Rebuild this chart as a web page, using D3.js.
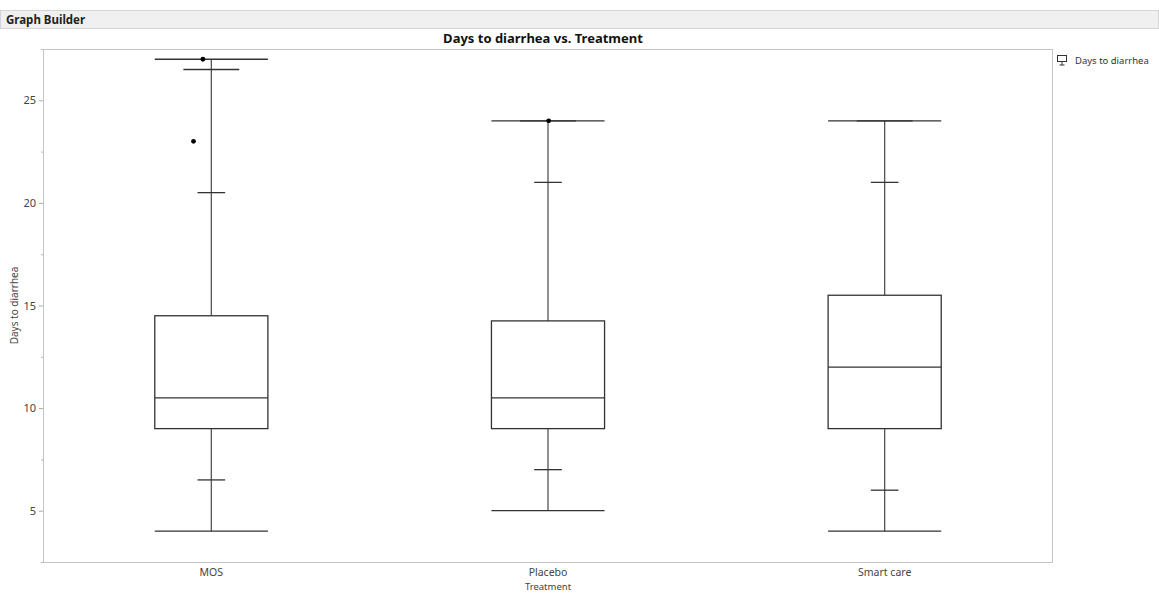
<!DOCTYPE html>
<html><head><meta charset="utf-8">
<script src="https://cdn.jsdelivr.net/npm/d3@7"></script>
<style>
html,body{margin:0;padding:0;background:#fff;}
svg{display:block;font-family:"Noto Sans","Open Sans",sans-serif;}
</style></head>
<body>
<svg id="c" width="1159" height="595"></svg>
<script>
const categories = ["MOS", "Placebo", "Smart care"];
const minVals   = [4, 5, 4];
const lowInner  = [6.5, 7, 6];
const q1Vals    = [9, 9, 9];
const medVals   = [10.5, 10.5, 12];
const q3Vals    = [14.5, 14.25, 15.5];
const highInner = [20.5, 21, 21];
const midUpper  = [26.5, 24, 24];
const maxVals   = [27, 24, 24];
const pointCats = ["MOS", "MOS", "Placebo"];
const pointVals = [27, 23, 24];
const pointJitter = [-0.025, -0.053, 0.002];
const yTicks = [5, 10, 15, 20, 25];
const yMinor = [2.5, 7.5, 12.5, 17.5, 22.5, 27.5];

const svg = d3.select("#c");
const L = 43, R = 1053, T = 49, B = 562;

// header bar
svg.append("rect").attr("x", 0.5).attr("y", 10.5).attr("width", 1158).attr("height", 18)
  .attr("fill", "#f0f0f0").attr("stroke", "#d4d4d4");
svg.append("text").attr("x", 6).attr("y", 24).attr("font-size", 11.5).attr("font-weight", "bold")
  .attr("fill", "#222").text("Graph Builder");

// title
svg.append("text").attr("x", 543).attr("y", 43).attr("text-anchor", "middle")
  .attr("font-size", 13).attr("font-weight", "bold").attr("fill", "#111")
  .text("Days to diarrhea vs. Treatment");

const x = d3.scaleBand().domain(categories).range([L, R]).padding(0);
const y = d3.scaleLinear().domain([2.5, 27.5]).range([B, T]);
const bw = x.bandwidth();

// frame
svg.append("rect").attr("x", L + 0.5).attr("y", T + 0.5).attr("width", R - L - 1).attr("height", B - T)
  .attr("fill", "none").attr("stroke", "#c4c4c4");

// y axis
const ya = svg.append("g").attr("transform", `translate(${L},0)`)
  .call(d3.axisLeft(y).tickValues(yTicks).tickSize(4).tickPadding(3).tickFormat(d3.format("d")))
  .attr("font-family", null);
ya.select(".domain").remove();
ya.selectAll(".tick line").attr("stroke", "#aaa");
ya.selectAll(".tick text").attr("font-size", 11).attr("fill", "#444");
const ym = svg.append("g").attr("transform", `translate(${L},0)`)
  .call(d3.axisLeft(y).tickValues(yMinor).tickSize(2).tickFormat(""));
ym.select(".domain").remove();
ym.selectAll(".tick line").attr("stroke", "#bbb");

// x axis labels
const xa = svg.append("g").attr("transform", `translate(0,${B})`)
  .call(d3.axisBottom(x).tickSize(0).tickPadding(7))
  .attr("font-family", null);
xa.select(".domain").remove();
xa.selectAll(".tick text").attr("font-size", 10.5).attr("fill", "#444");

// axis titles
svg.append("text").attr("x", 548).attr("y", 590).attr("text-anchor", "middle")
  .attr("font-size", 9.5).attr("fill", "#444").text("Treatment");
svg.append("text").attr("transform", `translate(18,${(T + B) / 2}) rotate(-90)`)
  .attr("text-anchor", "middle").attr("font-size", 10).attr("fill", "#444").text("Days to diarrhea");

// boxes
const g = svg.append("g");
categories.forEach((c, i) => {
  const cx = x(c) + bw / 2;
  const hb = bw * 0.168, hm = bw * 0.083, hs = bw * 0.041;
  g.append("line").attr("x1", cx).attr("x2", cx).attr("y1", y(minVals[i])).attr("y2", y(q1Vals[i]))
    .attr("stroke", "#555").attr("stroke-width", 1.3);
  g.append("line").attr("x1", cx).attr("x2", cx).attr("y1", y(q3Vals[i])).attr("y2", y(maxVals[i]))
    .attr("stroke", "#555").attr("stroke-width", 1.3);
  g.append("rect").attr("x", cx - hb).attr("y", y(q3Vals[i])).attr("width", 2 * hb)
    .attr("height", y(q1Vals[i]) - y(q3Vals[i])).attr("fill", "none").attr("stroke", "#333").attr("stroke-width", 1.3);
  g.append("line").attr("x1", cx - hb).attr("x2", cx + hb).attr("y1", y(medVals[i])).attr("y2", y(medVals[i]))
    .attr("stroke", "#333").attr("stroke-width", 1.3);
  [[minVals[i], hb], [maxVals[i], hb], [midUpper[i], hm], [lowInner[i], hs], [highInner[i], hs]].forEach(([v, h]) => {
    g.append("line").attr("x1", cx - h).attr("x2", cx + h).attr("y1", y(v)).attr("y2", y(v))
      .attr("stroke", "#333").attr("stroke-width", 1.3);
  });
});

// points
pointVals.forEach((v, i) => {
  const cx = x(pointCats[i]) + bw / 2 + pointJitter[i] * bw;
  svg.append("circle").attr("cx", cx).attr("cy", y(v)).attr("r", 2.4).attr("fill", "#000");
});

// legend
const lg = svg.append("g").attr("transform", "translate(1062,60)");
lg.append("rect").attr("x", -4.5).attr("y", -4.5).attr("width", 9).attr("height", 6)
  .attr("fill", "none").attr("stroke", "#333");
lg.append("line").attr("x1", 0).attr("x2", 0).attr("y1", 1.5).attr("y2", 5).attr("stroke", "#333");
lg.append("line").attr("x1", -2.5).attr("x2", 2.5).attr("y1", 5).attr("y2", 5).attr("stroke", "#333");
lg.append("text").attr("x", 13).attr("y", 3.5).attr("font-size", 9.5).attr("fill", "#333").text("Days to diarrhea");
</script>
</body></html>
